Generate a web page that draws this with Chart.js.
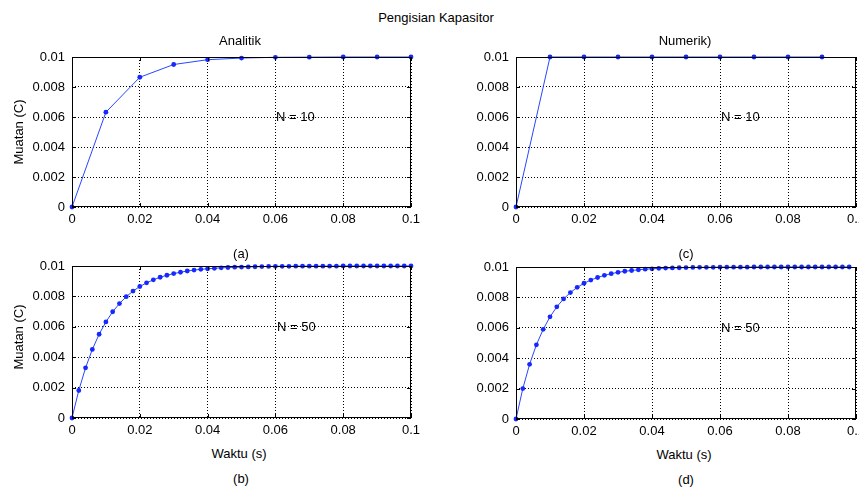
<!DOCTYPE html>
<html>
<head>
<meta charset="utf-8">
<script src="https://cdn.jsdelivr.net/npm/chart.js@4.4.0/dist/chart.umd.min.js"></script>
<style>
  html, body { margin: 0; padding: 0; background: #fff; }
  body { width: 859px; height: 489px; overflow: hidden; position: relative; font-family: 'Liberation Sans', Arial, sans-serif; }
  .box { position: absolute; }
  .txt { position: absolute; font-size: 13px; color: #000; white-space: nowrap; transform: translate(-50%, -50%); }
  .lft { position: absolute; font-size: 13px; color: #000; white-space: nowrap; transform: translate(0, -50%); }
  .rot { position: absolute; font-size: 13px; color: #000; white-space: nowrap; transform: translate(-50%, -50%) rotate(-90deg); }
</style>
</head>
<body>
<div class="box" id="boxA"><canvas id="chartA"></canvas></div>
<div class="box" id="boxB"><canvas id="chartB"></canvas></div>
<div class="box" id="boxC"><canvas id="chartC"></canvas></div>
<div class="box" id="boxD"><canvas id="chartD"></canvas></div>

<div class="txt" style="left:436px; top:17px;">Pengisian Kapasitor</div>
<div class="txt" style="left:240px; top:40px;">Analitik</div>
<div class="txt" style="left:685px; top:40px;">Numerik)</div>
<div class="txt" style="left:241px; top:253px;">(a)</div>
<div class="txt" style="left:686px; top:253px;">(c)</div>
<div class="txt" style="left:239px; top:453px;">Waktu (s)</div>
<div class="txt" style="left:684px; top:454px;">Waktu (s)</div>
<div class="txt" style="left:241px; top:478px;">(b)</div>
<div class="txt" style="left:686px; top:479px;">(d)</div>
<div class="lft" style="left:276px; top:116px;">N = 10</div>
<div class="lft" style="left:721px; top:116px;">N = 10</div>
<div class="lft" style="left:277px; top:326px;">N = 50</div>
<div class="lft" style="left:721px; top:327px;">N = 50</div>
<div class="rot" style="left:18px; top:132px;">Muatan (C)</div>
<div class="rot" style="left:18px; top:337px;">Muatan (C)</div>

<script>
// waktu (s) dan muatan (C)
const anaT10 = [0, 0.01, 0.02, 0.03, 0.04, 0.05, 0.06, 0.07, 0.08, 0.09, 0.1];
const anaQ10 = [0, 0.00632, 0.00865, 0.00950, 0.00982, 0.00993, 0.00998, 0.00999, 0.01, 0.01, 0.01];

const numT10 = [0, 0.01, 0.02, 0.03, 0.04, 0.05, 0.06, 0.07, 0.08, 0.09];
const numQ10 = [0, 0.01, 0.01, 0.01, 0.01, 0.01, 0.01, 0.01, 0.01, 0.01];

const anaT50 = [0, 0.002, 0.004, 0.006, 0.008, 0.01, 0.012, 0.014, 0.016, 0.018,
    0.02, 0.022, 0.024, 0.026, 0.028, 0.03, 0.032, 0.034, 0.036, 0.038,
    0.04, 0.042, 0.044, 0.046, 0.048, 0.05, 0.052, 0.054, 0.056, 0.058,
    0.06, 0.062, 0.064, 0.066, 0.068, 0.07, 0.072, 0.074, 0.076, 0.078,
    0.08, 0.082, 0.084, 0.086, 0.088, 0.09, 0.092, 0.094, 0.096, 0.098, 0.1];
const anaQ50 = [0, 0.00181, 0.00330, 0.00451, 0.00551, 0.00632, 0.00699, 0.00753, 0.00798, 0.00835,
    0.00865, 0.00889, 0.00909, 0.00926, 0.00939, 0.00950, 0.00959, 0.00967, 0.00973, 0.00978,
    0.00982, 0.00985, 0.00988, 0.00990, 0.00992, 0.00993, 0.00994, 0.00995, 0.00996, 0.00997,
    0.00998, 0.00998, 0.00998, 0.00999, 0.00999, 0.00999, 0.00999, 0.00999, 0.00999, 0.00999,
    0.01, 0.01, 0.01, 0.01, 0.01, 0.01, 0.01, 0.01, 0.01, 0.01, 0.01];

const numT50 = [0, 0.002, 0.004, 0.006, 0.008, 0.01, 0.012, 0.014, 0.016, 0.018,
    0.02, 0.022, 0.024, 0.026, 0.028, 0.03, 0.032, 0.034, 0.036, 0.038,
    0.04, 0.042, 0.044, 0.046, 0.048, 0.05, 0.052, 0.054, 0.056, 0.058,
    0.06, 0.062, 0.064, 0.066, 0.068, 0.07, 0.072, 0.074, 0.076, 0.078,
    0.08, 0.082, 0.084, 0.086, 0.088, 0.09, 0.092, 0.094, 0.096, 0.098];
const numQ50 = [0, 0.00200, 0.00360, 0.00488, 0.00590, 0.00672, 0.00738, 0.00790, 0.00832, 0.00866,
    0.00893, 0.00914, 0.00931, 0.00945, 0.00956, 0.00965, 0.00972, 0.00977, 0.00982, 0.00986,
    0.00988, 0.00991, 0.00993, 0.00994, 0.00995, 0.00996, 0.00997, 0.00998, 0.00998, 0.00998,
    0.00999, 0.00999, 0.00999, 0.00999, 0.00999, 0.01, 0.01, 0.01, 0.01, 0.01,
    0.01, 0.01, 0.01, 0.01, 0.01, 0.01, 0.01, 0.01, 0.01, 0.01];

const xTicks = [0, 0.02, 0.04, 0.06, 0.08, 0.1];
const yTicks = [0, 0.002, 0.004, 0.006, 0.008, 0.01];

Chart.defaults.font.family = "'Liberation Sans', Arial, sans-serif";
Chart.defaults.font.size = 13;
Chart.defaults.color = '#000';

// lebar sumbu y, ruang atas, tinggi sumbu x, ruang kanan
const AXW = 60, PADT = 20, AXH = 25, PADR = 30;

// kotak axes gaya matlab + tick ke dalam
const framePlugin = {
    id: 'frame',
    afterDraw(chart) {
        const ctx = chart.ctx, a = chart.chartArea;
        const sx = chart.scales.x, sy = chart.scales.y;
        ctx.save();
        ctx.strokeStyle = '#000';
        ctx.lineWidth = 1;
        ctx.strokeRect(a.left + 0.5, a.top + 0.5, a.right - a.left - 1, a.bottom - a.top - 1);
        ctx.beginPath();
        xTicks.forEach(function(v){
            const px = Math.round(sx.getPixelForValue(v)) + 0.5;
            ctx.moveTo(px, a.bottom); ctx.lineTo(px, a.bottom - 4);
            ctx.moveTo(px, a.top); ctx.lineTo(px, a.top + 4);
        });
        yTicks.forEach(function(v){
            const py = Math.round(sy.getPixelForValue(v)) + 0.5;
            ctx.moveTo(a.left, py); ctx.lineTo(a.left + 4, py);
            ctx.moveTo(a.right, py); ctx.lineTo(a.right - 4, py);
        });
        ctx.stroke();
        ctx.restore();
    }
};

function fmt(v){
    return String(+Number(v).toFixed(4));
}

function renderPanel(id, boxId, L, T, W, H, times, charges){
    const box = document.getElementById(boxId);
    box.style.left = (L - AXW) + 'px';
    box.style.top = (T - PADT) + 'px';
    box.style.width = (W + AXW + PADR) + 'px';
    box.style.height = (H + PADT + AXH) + 'px';

    const pts = times.map(function(t, i){ return {x: t, y: charges[i]}; });

    new Chart(document.getElementById(id), {
        type: 'line',
        data: {
            datasets: [{
                data: pts,
                borderColor: 'rgb(40, 70, 255)',
                borderWidth: 1,
                backgroundColor: 'rgb(0, 0, 255)',
                pointBackgroundColor: 'rgb(20, 40, 255)',
                pointBorderWidth: 0,
                pointRadius: 2.4,
                tension: 0,
                clip: false
            }]
        },
        options: {
            responsive: true,
            maintainAspectRatio: false,
            animation: false,
            layout: { autoPadding: false, padding: { top: PADT, right: PADR, left: 0, bottom: 0 } },
            plugins: { legend: { display: false }, tooltip: { enabled: false } },
            scales: {
                x: {
                    type: 'linear',
                    min: 0, max: 0.1,
                    afterFit: function(s){ s.height = AXH; },
                    afterBuildTicks: function(s){ s.ticks = xTicks.map(function(v){ return {value: v}; }); },
                    ticks: { padding: 5, callback: fmt, maxRotation: 0, autoSkip: false },
                    grid: { color: '#000', lineWidth: 1, drawTicks: false },
                    border: { display: false, dash: [1, 2] }
                },
                y: {
                    type: 'linear',
                    min: 0, max: 0.01,
                    afterFit: function(s){ s.width = AXW; },
                    afterBuildTicks: function(s){ s.ticks = yTicks.map(function(v){ return {value: v}; }); },
                    ticks: { padding: 7, callback: fmt, autoSkip: false },
                    grid: { color: '#000', lineWidth: 1, drawTicks: false },
                    border: { display: false, dash: [1, 2] }
                }
            }
        },
        plugins: [framePlugin]
    });
}

renderPanel('chartA', 'boxA', 72, 57, 339, 150, anaT10, anaQ10);
renderPanel('chartC', 'boxC', 516, 57, 340, 150, numT10, numQ10);
renderPanel('chartB', 'boxB', 72, 266, 339, 152, anaT50, anaQ50);
renderPanel('chartD', 'boxD', 516, 267, 340, 152, numT50, numQ50);
</script>
</body>
</html>
